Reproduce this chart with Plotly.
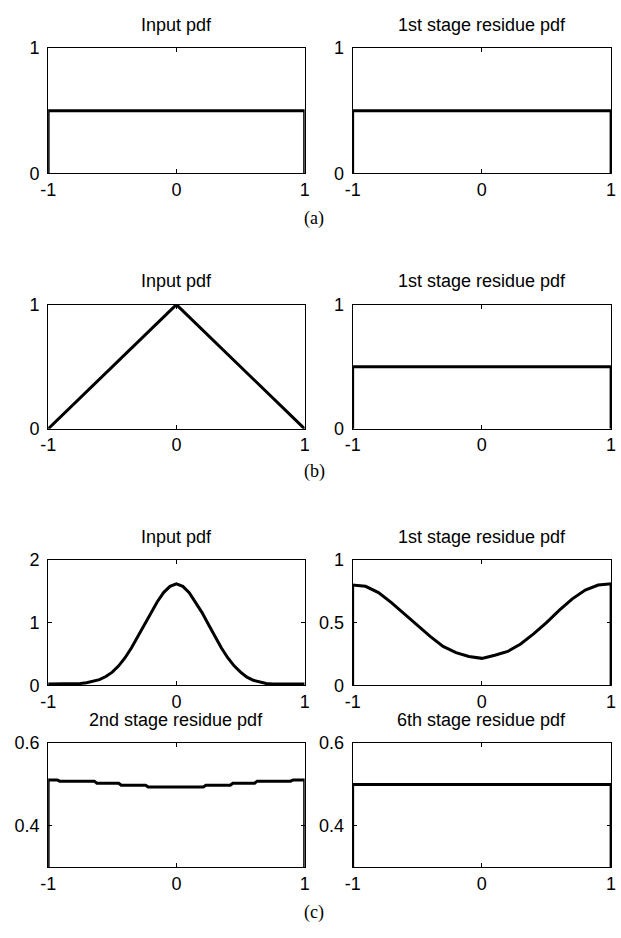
import plotly.graph_objects as go

W, H = 621, 938

# ---- data -------------------------------------------------------------
uniform_x = [-1, -1, 1, 1]
uniform_y = [0, 0.5, 0.5, 0]

tri_x = [-1, -0.5, 0, 0.5, 1]
tri_y = [0, 0.5, 1, 0.5, 0]

gauss_x = [-1, -0.9, -0.8, -0.75, -0.7, -0.65, -0.6, -0.55, -0.5, -0.45, -0.4,
           -0.35, -0.3, -0.25, -0.2, -0.15, -0.1, -0.05, 0, 0.05, 0.1, 0.15,
           0.2, 0.25, 0.3, 0.35, 0.4, 0.45, 0.5, 0.55, 0.6, 0.65, 0.7, 0.75,
           0.8, 0.9, 1]
gauss_y = [0.02, 0.02, 0.02, 0.03, 0.04, 0.06, 0.09, 0.14, 0.21, 0.31, 0.44,
           0.60, 0.78, 0.97, 1.16, 1.33, 1.48, 1.58, 1.62, 1.58, 1.48, 1.33,
           1.16, 0.97, 0.78, 0.60, 0.44, 0.31, 0.21, 0.13, 0.08, 0.05, 0.03,
           0.02, 0.02, 0.02, 0.02]

res1_x = [-1, -1, -0.9, -0.8, -0.7, -0.6, -0.5, -0.4, -0.3, -0.2, -0.1, 0,
          0.1, 0.2, 0.3, 0.4, 0.5, 0.6, 0.7, 0.8, 0.9, 1, 1]
res1_y = [0, 0.80, 0.79, 0.74, 0.66, 0.57, 0.48, 0.39, 0.31, 0.26, 0.23, 0.215,
          0.24, 0.27, 0.33, 0.41, 0.50, 0.60, 0.69, 0.76, 0.80, 0.81, 0]

res2_x = [-1, -1, -0.93, -0.91, -0.64, -0.62, -0.45, -0.43, -0.24, -0.22,
          0.21, 0.23, 0.42, 0.44, 0.61, 0.63, 0.89, 0.91, 1, 1]
res2_y = [0, 0.511, 0.511, 0.508, 0.508, 0.503, 0.503, 0.498, 0.498, 0.494,
          0.494, 0.498, 0.498, 0.503, 0.503, 0.508, 0.508, 0.511, 0.511, 0]

res6_x = [-1, -1, 1, 1]
res6_y = [0, 0.5, 0.5, 0]

x_ticks = [-1, 0, 1]
x_tick_text = ["-1", "0", "1"]

# ---- panel layout (pixel boxes) --------------------------------------
cols = [(41, 303), (352, 616)]
rows = {"a": (39, 167), "b": (301, 428), "c1": (562, 690), "c2": (749, 876)}

panels = [
    # (row, col, title, x, y, yrange, yticks, yticktext)
    ("a", 0, "Input pdf", uniform_x, uniform_y, [0, 1], [0, 1], ["0", "1"]),
    ("a", 1, "1st stage residue pdf", uniform_x, uniform_y, [0, 1], [0, 1], ["0", "1"]),
    ("b", 0, "Input pdf", tri_x, tri_y, [0, 1], [0, 1], ["0", "1"]),
    ("b", 1, "1st stage residue pdf", uniform_x, uniform_y, [0, 1], [0, 1], ["0", "1"]),
    ("c1", 0, "Input pdf", gauss_x, gauss_y, [0, 2], [0, 1, 2], ["0", "1", "2"]),
    ("c1", 1, "1st stage residue pdf", res1_x, res1_y, [0, 1], [0, 0.5, 1], ["0", "0.5", "1"]),
    ("c2", 0, "2nd stage residue pdf", res2_x, res2_y, [0.3, 0.6], [0.4, 0.6], ["0.4", "0.6"]),
    ("c2", 1, "6th stage residue pdf", res6_x, res6_y, [0.3, 0.6], [0.4, 0.6], ["0.4", "0.6"]),
]

SANS = "Liberation Sans, Arial, sans-serif"
SERIF = "Liberation Serif, Times New Roman, serif"
FS = 18

fig = go.Figure()
layout = dict(
    width=W, height=H,
    margin=dict(l=0, r=0, t=0, b=0),
    paper_bgcolor="white", plot_bgcolor="white",
    showlegend=False,
    font=dict(family=SANS, size=FS, color="black"),
)
annotations = []

for i, (row, col, title, xs, ys, yr, yt, ytt) in enumerate(panels, start=1):
    top, bot = rows[row]
    left, right = cols[col]
    xa = "xaxis" if i == 1 else f"xaxis{i}"
    ya = "yaxis" if i == 1 else f"yaxis{i}"
    xref = "x" if i == 1 else f"x{i}"
    yref = "y" if i == 1 else f"y{i}"
    common = dict(
        showgrid=False, zeroline=False, showline=True, linecolor="black",
        linewidth=1, mirror="ticks", ticks="inside", ticklen=4,
        tickcolor="black", tickwidth=1,
        tickfont=dict(family=SANS, size=FS, color="black"),
    )
    layout[xa] = dict(
        domain=[left / W, right / W], range=[-1, 1], anchor=yref,
        tickmode="array", tickvals=x_ticks, ticktext=x_tick_text,
        ticklabelstandoff=0, **common,
    )
    layout[ya] = dict(
        domain=[1 - bot / H, 1 - top / H], range=yr, anchor=xref,
        tickmode="array", tickvals=yt, ticktext=ytt,
        ticklabelstandoff=4, **common,
    )
    fig.add_trace(go.Scatter(
        x=xs, y=ys, mode="lines", xaxis=xref, yaxis=yref,
        line=dict(color="black", width=3), hoverinfo="skip",
    ))
    annotations.append(dict(
        text=title, xref="paper", yref="paper",
        x=(left + right) / 2 / W, y=1 - (top - 24) / H,
        xanchor="center", yanchor="middle", showarrow=False,
        font=dict(family=SANS, size=FS, color="black"),
    ))

for label, ypx in [("(a)", 213), ("(b)", 472), ("(c)", 922)]:
    annotations.append(dict(
        text=label, xref="paper", yref="paper",
        x=313 / W, y=1 - ypx / H, xanchor="center", yanchor="middle",
        showarrow=False, font=dict(family=SERIF, size=18, color="black"),
    ))

layout["annotations"] = annotations
fig.update_layout(**layout)
fig.write_html("out.html")
